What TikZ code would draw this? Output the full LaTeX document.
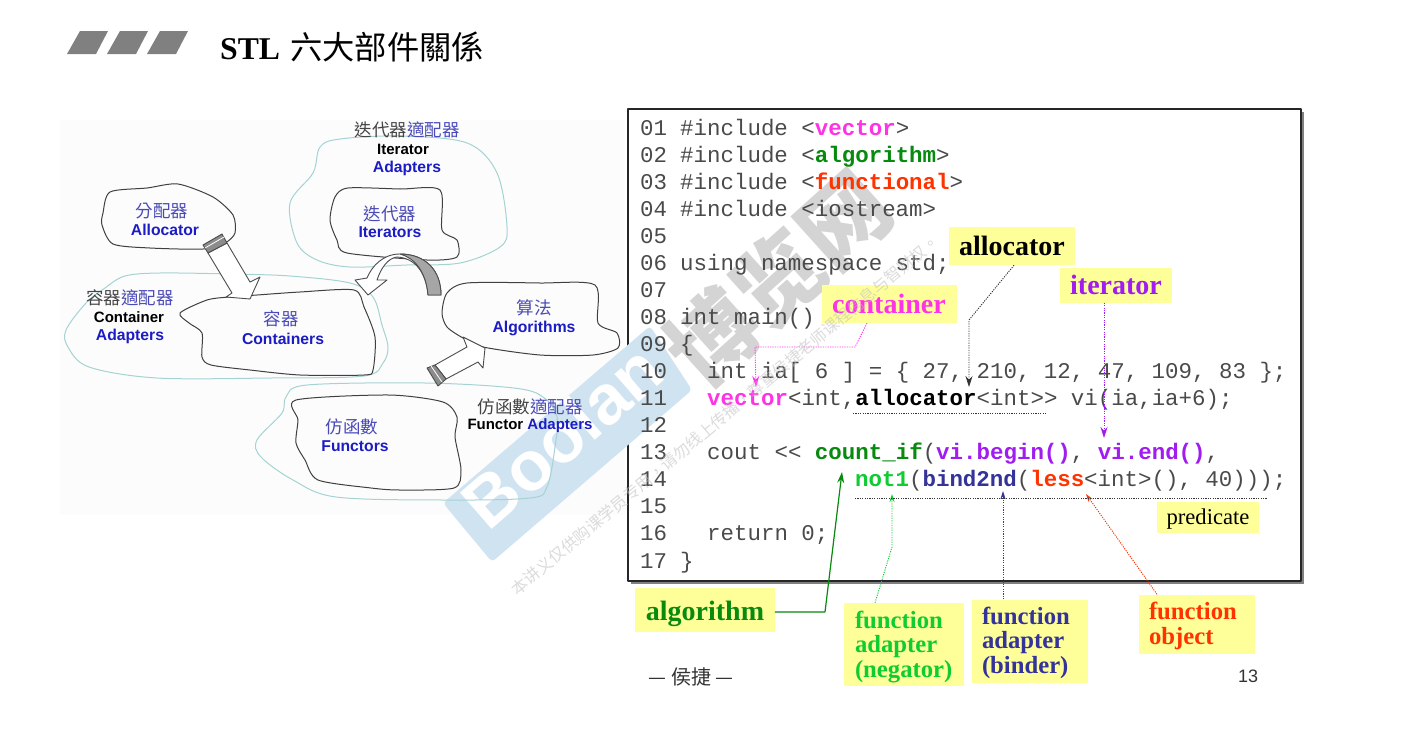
\documentclass[tikz,border=0pt]{standalone}
\usepackage{fontspec}
\setmainfont{Liberation Serif}
\setsansfont{Liberation Sans}
\newfontfamily\codefont{Liberation Mono}
\newfontfamily\cjk{Noto Sans CJK TC}
\usetikzlibrary{arrows.meta}
\definecolor{labelyellow}{HTML}{FFFF99}
\definecolor{bluetext}{HTML}{1C1CC4}
\definecolor{cjkblue}{HTML}{4A4AB8}
\definecolor{cjkgray}{HTML}{444444}
\definecolor{tealline}{HTML}{A5D3D3}
\definecolor{wmblue}{HTML}{CFE3F1}
\definecolor{codegray}{HTML}{4A4A4A}
\definecolor{vecpink}{HTML}{FF33E6}
\definecolor{algogreen}{HTML}{078A0E}
\definecolor{funcred}{HTML}{FF3300}
\definecolor{iterpurple}{HTML}{A01CF0}
\definecolor{negagreen}{HTML}{0FCC33}
\definecolor{bindblue}{HTML}{333399}
\newcommand{\cf}[2]{\textbf{\textcolor{#1}{#2}}}
\begin{document}
\begin{tikzpicture}[x=1pt,y=-1pt,line join=round,line cap=round,>=stealth]
	\tikzset{blob/.style={draw=black!75,line width=1pt},
		ring/.style={draw=tealline,line width=1pt},
		blockarrow/.style={draw=black!70,fill=white,line width=0.9pt},
		code/.style={anchor=base west,inner sep=0pt,text=codegray,font=\codefont\fontsize{22.45}{26}\selectfont},
		lbl/.style={fill=labelyellow,inner sep=0pt,align=left,font=\bfseries\fontsize{24.7}{24.5}\selectfont},
		en/.style={inner sep=0pt,font=\sffamily\bfseries\fontsize{15.7}{18}\selectfont,text=bluetext},
		cn/.style={inner sep=0pt,font=\cjk\fontsize{17.5}{20}\selectfont,text=cjkblue},
		dotline/.style={line cap=butt,line width=0.9pt,dash pattern=on 1.2pt off 1.2pt},
		tip/.style={-{Stealth[length=11pt,width=7pt]}},
		tipsmall/.style={-{Stealth[length=8pt,width=5pt]}}}
	\useasboundingbox (0,0) rectangle (1405,731);
	\fill[white] (0,0) rectangle (1405,731);
	% title
	\foreach \i in {0,1,2}
		\fill[black!50] (67+40*\i,54)--(80+40*\i,31)--(108+40*\i,31)--(96+40*\i,54)--cycle;
	\node[anchor=west,inner sep=0pt] (title) at (220,47) {\fontsize{31.7}{34}\selectfont\textbf{STL}\hspace{10pt}\cjk\fontsize{32.3}{34}\selectfont 六大部件關係};
	% backgrounds
	\fill[black!1] (60,120) rectangle (625,515);
	\fill[black!50] (631,112) rectangle (1304,584);
	\draw[fill=white,draw=black!85,line width=1.3pt] (628,109) rectangle (1301,581);
	% watermark
	\fill[wmblue,rounded corners=4pt] (650,326)--(692,390)--(492,562)--(443,503)--cycle;
	\node[rotate=41,text=white,inner sep=0pt,font=\sffamily\bfseries\fontsize{70}{70}\selectfont] (wmname) at (562,436) {Boolan};
	\node[rotate=42,text=black!17,inner sep=0pt,font=\cjk\bfseries\fontsize{88}{88}\selectfont] (wmsite) at (778,278) {博览网};
	% rings
	\draw[ring] plot[smooth cycle,tension=0.55] coordinates {(340,139)(320,147)(313,173)(290,203)(297,243)(317,260)(350,267)(407,265)(460,263)(500,247)(507,227)(497,173)(467,143)(400,136)};
	\draw[ring] plot[smooth cycle,tension=0.55] coordinates {(66,330)(86,303)(105,288)(125,276)(160,273)(230,274)(290,276)(350,283)(373,297)(382,325)(388,347)(383,363)(364,376)(271,378)(157,378)(89,367)(68,347)};
	\draw[ring] plot[smooth cycle,tension=0.55] coordinates {(307,385)(425,383)(514,388)(543,397)(557,417)(555,447)(547,487)(530,498)(443,500)(336,497)(293,480)(261,457)(257,440)(282,413)(286,397)};
	% blobs
	\draw[blob] plot[smooth cycle,tension=0.45] coordinates {(110,192)(147,188)(178,184)(213,197)(233,215)(235,233)(225,243)(203,249)(150,248)(113,244)(102,225)(103,213)};
	\draw[blob] plot[smooth cycle,tension=0.45] coordinates {(180,313)(207,300)(229,297)(257,295)(300,292)(354,290)(364,307)(375,337)(373,370)(364,375)(300,375)(250,370)(211,365)(202,357)(202,333)(189,323)};
	\draw[blob] plot[smooth cycle,tension=0.45] coordinates {(348,188)(400,189)(440,190)(442,230)(457,240)(457,257)(427,260)(347,253)(337,240)(330,220)(335,197)};
	\draw[blob] plot[smooth cycle,tension=0.45] coordinates {(467,283)(540,283)(595,285)(598,323)(617,333)(618,348)(593,355)(540,355)(483,347)(463,338)(447,327)(442,313)(447,293)};
	\draw[blob] plot[smooth cycle,tension=0.45] coordinates {(296,400)(389,395)(443,402)(457,417)(455,437)(461,470)(454,488)(400,490)(371,488)(318,480)(305,460)(296,443)(298,420)};
	% block arrows
	\draw[blockarrow] (208,253)--(232,293)--(226,297)--(250,299)--(260,277)--(250,282)--(227,243)--cycle;
	\draw[blockarrow,fill=black!45] (203,245)--(222,234)--(227,243)--(208,253)--cycle;
	\draw[white,line width=0.8pt] (205,248)--(224,237);
	\draw[blockarrow] (435,365)--(467,347)--(463,337)--(485,348)--(483,368)--(478,362)--(446,379)--cycle;
	\draw[blockarrow,fill=black!45] (427,368)--(435,365)--(446,379)--(438,386)--cycle;
	\draw[white,line width=0.8pt] (431,366)--(442,382);
	\draw[blockarrow] (441,295) .. controls (441,270) and (425,254) .. (400,254) .. controls (383,254) and (372,266) .. (367,278)--(355,280)--(368,295)--(387,280)--(377,280) .. controls (381,268) and (388,258) .. (397,257) .. controls (415,258) and (426,272) .. (428,295)--cycle;
	\fill[black!35,draw=black!70,line width=0.9pt] (441,295) .. controls (441,270) and (425,254) .. (400,254) .. controls (415,258) and (426,272) .. (428,295)--cycle;
	% diagram text
	\node[cn] (allocatorcn) at (162,211) {分配器};
	\node[en] (allocatoren) at (165,230) {Allocator};
	\node[cn] (iteradaptcn) at (407,130) {\textcolor{cjkgray}{迭代器}適配器};
	\node[en,text=black,font=\sffamily\bfseries\fontsize{15}{18}\selectfont] (iteradaptone) at (403,149) {Iterator};
	\node[en] (iteradapttwo) at (407,168) {Adapters};
	\node[cn] (iterscn) at (390,214) {迭代器};
	\node[en] (itersen) at (390,232) {Iterators};
	\node[cn] (contadaptcn) at (130,298) {\textcolor{cjkgray}{容器}適配器};
	\node[en,text=black,font=\sffamily\bfseries\fontsize{15}{18}\selectfont] (contadaptone) at (129,317) {Container};
	\node[en] (contadapttwo) at (130,336) {Adapters};
	\node[cn] (contscn) at (281,319) {容器};
	\node[en] (contsen) at (283,339) {Containers};
	\node[cn] (algocn) at (534,308) {算法};
	\node[en] (algoen) at (534,328) {Algorithms};
	\node[cn] (functorcn) at (352,427) {仿函數};
	\node[en] (functoren) at (355,446) {Functors};
	\node[cn] (funcadaptcn) at (530,407) {\textcolor{cjkgray}{仿函數}適配器};
	\node[en,text=black,font=\sffamily\bfseries\fontsize{15}{18}\selectfont] (funcadapten) at (530,426) {Functor \textcolor{bluetext}{Adapters}};
	% code lines
	\foreach \n [count=\i] in {01,02,03,04,05,06,07,08,09,10,11,12,13,14,15,16,17}
		\node[code] (num\n) at (640,108+27.06*\i) {\n};
	\node[code] (line01) at (680,135) {\#include <\cf{vecpink}{vector}>};
	\node[code] (line02) at (680,162.06) {\#include <\cf{algogreen}{algorithm}>};
	\node[code] (line03) at (680,189.12) {\#include <\cf{funcred}{functional}>};
	\node[code] (line04) at (680,216.18) {\#include <iostream>};
	\node[code] (line06) at (680,270.3) {using namespace std;};
	\node[code] (line08) at (680,324.42) {int main()};
	\node[code] (line09) at (680,351.48) {\{};
	\node[code] (line10) at (707,378.54) {int ia[ 6 ] = \{ 27, 210, 12, 47, 109, 83 \};};
	\node[code] (line11) at (707,405.6) {\cf{vecpink}{vector}<int,\cf{black}{allocator}<int>> vi(ia,ia+6);};
	\node[code] (line13) at (707,459.72) {cout << \cf{algogreen}{count\_if}(\cf{iterpurple}{vi.begin()}, \cf{iterpurple}{vi.end()},};
	\node[code] (line14) at (855,486.78) {\cf{negagreen}{not1}(\cf{bindblue}{bind2nd}(\cf{funcred}{less}<int>(), 40)));};
	\node[code] (line16) at (707,540.9) {return 0;};
	\node[code] (line17) at (680,568) {\}};
	% yellow labels
	\node[lbl,minimum width=126pt,minimum height=38pt,font=\bfseries\fontsize{28}{28}\selectfont] (allocator) at (1012,246) {allocator};
	\node[lbl,minimum width=112pt,minimum height=35pt,text=iterpurple,font=\bfseries\fontsize{28}{28}\selectfont] (iterator) at (1116,285) {iterator};
	\node[lbl,minimum width=135pt,minimum height=38pt,text=vecpink,font=\bfseries\fontsize{28}{28}\selectfont] (container) at (889,304) {container};
	\node[lbl,minimum width=102pt,minimum height=31pt,font=\fontsize{22.6}{24}\selectfont] (predicate) at (1208,517) {\rule{0pt}{19.3pt}predicate};
	\node[lbl,minimum width=140pt,minimum height=44pt,text=algogreen,font=\bfseries\fontsize{28}{28}\selectfont] (algorithm) at (705,610) {\rule{0pt}{27pt}algorithm};
	\node[lbl,inner xsep=11pt,text width=98pt,minimum height=83pt,text=negagreen] (negator) at (904,644.5) {\rule{0pt}{21.7pt}function\\adapter\\(negator)};
	\node[lbl,inner xsep=10pt,text width=96pt,minimum height=83pt,text=bindblue] (binder) at (1030,641) {\rule{0pt}{21.2pt}function\\adapter\\(binder)};
	\node[lbl,inner xsep=10pt,text width=96pt,minimum height=59pt,text=funcred] (funcobject) at (1197,624) {\rule{0pt}{21.7pt}function\\object};
	% connectors
	\coordinate (contbendb) at (855,347);
	\coordinate (contbenda) at (755,347);
	\coordinate (contend) at (756,387);
	\draw[vecpink,dotline,tip] ([xshift=-22pt]container.south) -- (contbendb) -- (contbenda) -- (contend);
	\coordinate (allocbend) at (969,320);
	\coordinate (allocend) at (969,387);
	\draw[black!80,dotline,tip] ([xshift=2pt]allocator.south) -- (allocbend) -- (allocend);
	\coordinate (iterend) at (1104,438);
	\draw[iterpurple,dotline,tip] ([xshift=-12pt]iterator.south) -- (iterend);
	\coordinate (algobend) at (825,612);
	\coordinate (algoend) at (842,472);
	\draw[algogreen,line width=1.2pt,tip] ([yshift=-2pt]algorithm.east) -- (algobend) -- (algoend);
	\coordinate (negabend) at (892,547);
	\coordinate (negaend) at (892,494);
	\draw[negagreen,dotline,tipsmall] ([xshift=-29pt]negator.north) -- (negabend) -- (negaend);
	\coordinate (bindend) at (1003,491);
	\draw[bindblue,dotline,tipsmall] ([xshift=-27pt]binder.north) -- (bindend);
	\coordinate (funcend) at (1086,494);
	\draw[funcred,dotline,tipsmall] ([xshift=-40pt]funcobject.north) -- (funcend);
	% underlines
	\coordinate (predl) at (855,498);
	\coordinate (predr) at (1267,498);
	\draw[black!80,dotline] (predl) -- (predr);
	\coordinate (alloul) at (853,413);
	\coordinate (allour) at (1047,413);
	\draw[black!80,dotline] (alloul) -- (allour);
	% footer
	\node[inner sep=0pt,font=\cjk\fontsize{20}{22}\selectfont,text=black!80] (author) at (691,677) {— 侯捷 —};
	\node[inner sep=0pt,font=\sffamily\fontsize{18}{20}\selectfont,text=black!80] (pagenum) at (1248,676) {13};
	% small watermark
	\node[rotate=39.8,text=black!25,opacity=0.55,inner sep=0pt,font=\cjk\fontsize{16.2}{18}\selectfont] (wmnote) at (725,415) {本讲义仅供购课学员专用，请勿线上传播，尊重侯捷老师课程信息与智财权。};
\end{tikzpicture}
\end{document}
